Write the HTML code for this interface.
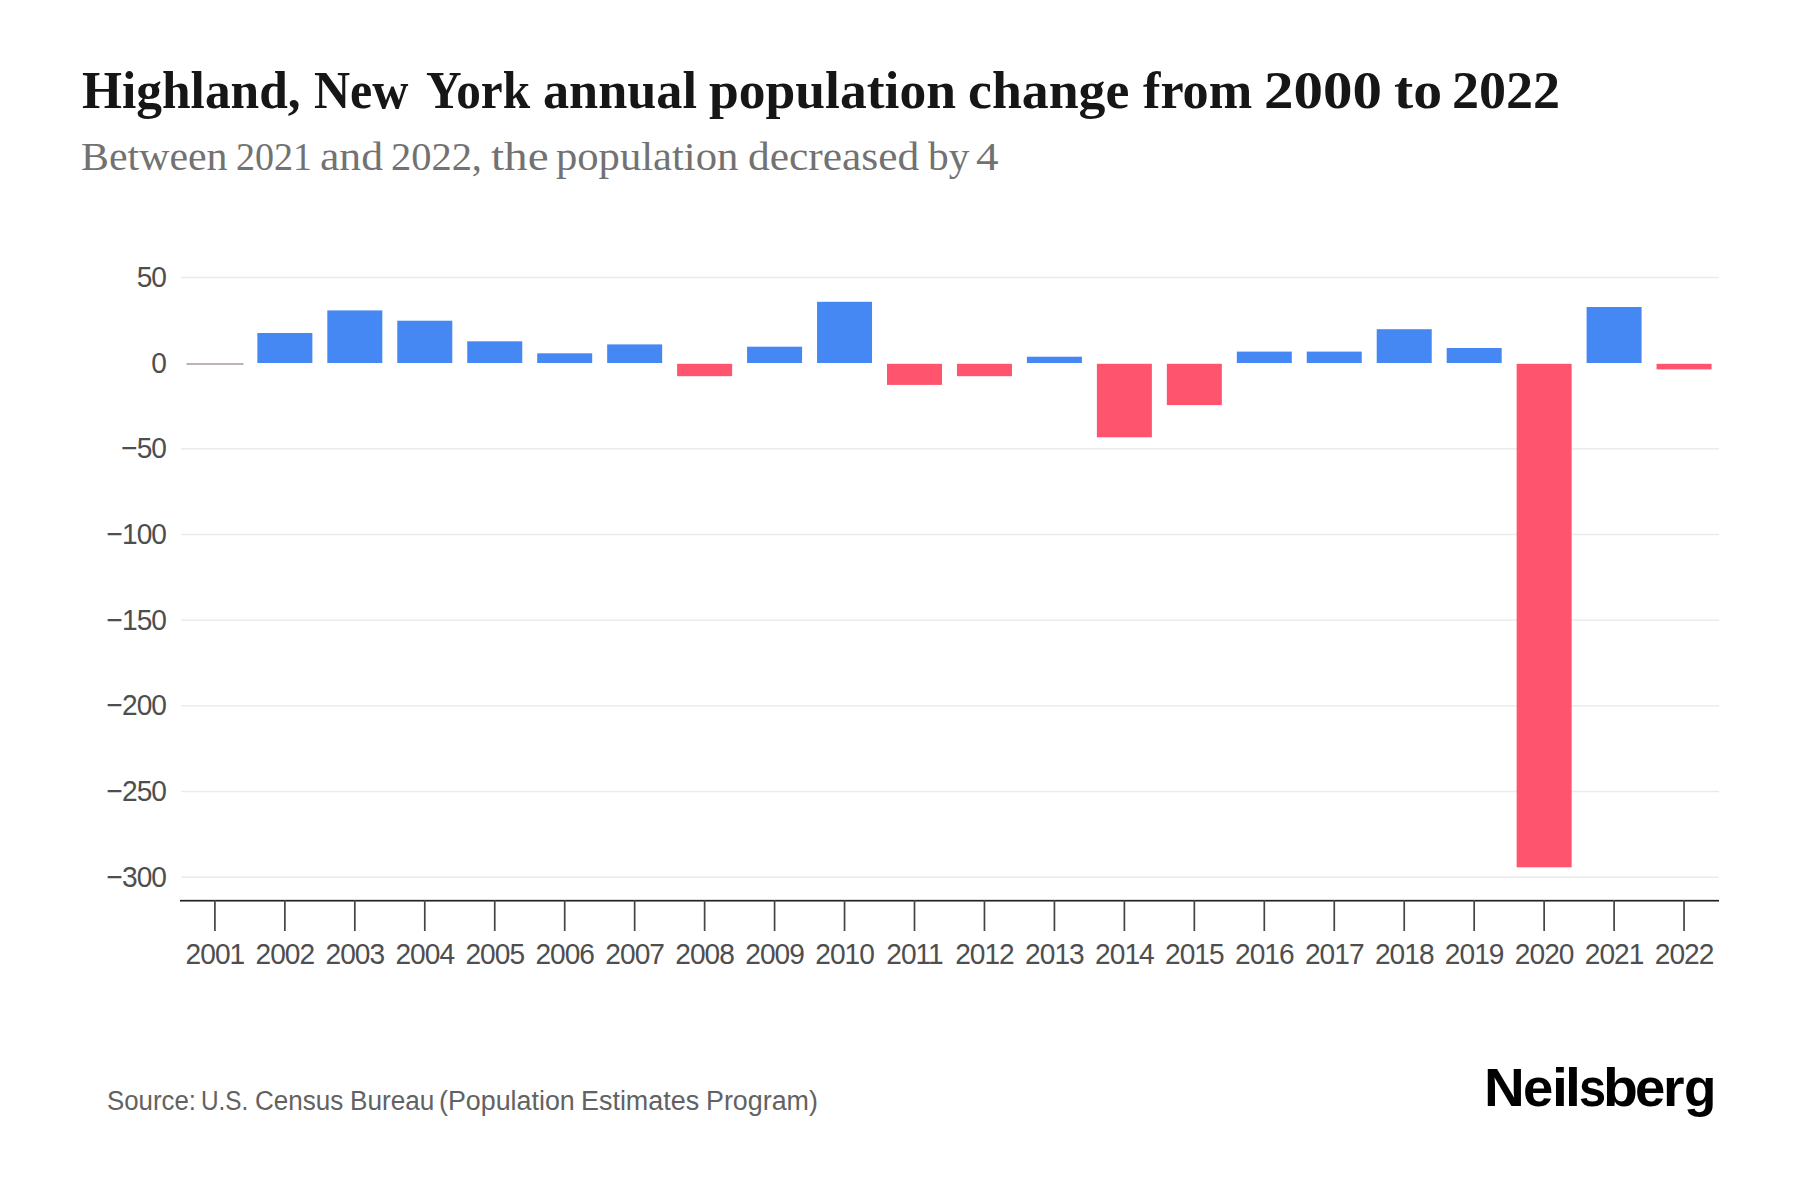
<!DOCTYPE html>
<html><head><meta charset="utf-8">
<style>
html,body{margin:0;padding:0;background:#fff;}
body{width:1800px;height:1200px;position:relative;overflow:hidden;}
.title{position:absolute;transform-origin:0 0;top:60.6px;font-family:"Liberation Serif",serif;font-weight:bold;font-size:52px;color:#161616;white-space:nowrap;line-height:60px;}
.sub{position:absolute;transform-origin:0 0;top:131.7px;font-family:"Liberation Serif",serif;font-size:40px;color:#727272;white-space:nowrap;line-height:50px;}
.src{position:absolute;transform-origin:0 0;top:1081px;font-family:"Liberation Sans",sans-serif;font-size:27px;color:#626262;white-space:nowrap;line-height:40px;}
.logo{position:absolute;transform-origin:0 0;top:1057.5px;font-family:"Liberation Sans",sans-serif;font-weight:bold;font-size:53px;color:#000;white-space:nowrap;line-height:60px;}
svg{position:absolute;left:0;top:0;}
svg text{font-family:"Liberation Sans",sans-serif;font-size:29px;letter-spacing:-1.0px;fill:#4e4e4e;}
</style></head><body>
<span class="title" style="left:81.71px;transform:scaleX(0.989)">Highland,</span><span class="title" style="left:314.04px;transform:scaleX(0.9619)">New</span><span class="title" style="left:425.75px;transform:scaleX(0.9477)">York</span><span class="title" style="left:542.99px;transform:scaleX(1.0047)">annual</span><span class="title" style="left:708.97px;transform:scaleX(1.0294)">population</span><span class="title" style="left:967.93px;transform:scaleX(1.0346)">change</span><span class="title" style="left:1143.0px;transform:scaleX(1.0037)">from</span><span class="title" style="left:1263.53px;transform:scaleX(1.134)">2000</span><span class="title" style="left:1393.89px;transform:scaleX(1.11)">to</span><span class="title" style="left:1452.12px;transform:scaleX(1.04)">2022</span>
<span class="sub" style="left:81.45px;transform:scaleX(1.0471)">Between</span><span class="sub" style="left:236.1px;transform:scaleX(0.9513)">2021</span><span class="sub" style="left:320.31px;transform:scaleX(1.0911)">and</span><span class="sub" style="left:390.78px;transform:scaleX(1.0105)">2022,</span><span class="sub" style="left:491.02px;transform:scaleX(1.1783)">the</span><span class="sub" style="left:556.13px;transform:scaleX(1.0651)">population</span><span class="sub" style="left:747.81px;transform:scaleX(1.0859)">decreased</span><span class="sub" style="left:927.87px;transform:scaleX(1.0333)">by</span><span class="sub" style="left:975.57px;transform:scaleX(1.1278)">4</span>
<svg width="1800" height="1200" viewBox="0 0 1800 1200">
<rect x="181" y="276.75" width="1538" height="1.5" fill="#ebebeb"/><rect x="181" y="448.09" width="1538" height="1.5" fill="#ebebeb"/><rect x="181" y="533.76" width="1538" height="1.5" fill="#ebebeb"/><rect x="181" y="619.43" width="1538" height="1.5" fill="#ebebeb"/><rect x="181" y="705.10" width="1538" height="1.5" fill="#ebebeb"/><rect x="181" y="790.77" width="1538" height="1.5" fill="#ebebeb"/><rect x="181" y="876.44" width="1538" height="1.5" fill="#ebebeb"/>
<rect x="186.5" y="363.0" width="57" height="2.0" fill="#c4b0b4"/><rect x="257.36" y="333.0" width="55" height="30.00" fill="#4688f3"/><rect x="327.32" y="310.4" width="55" height="52.60" fill="#4688f3"/><rect x="397.28" y="320.7" width="55" height="42.30" fill="#4688f3"/><rect x="467.24" y="341.3" width="55" height="21.70" fill="#4688f3"/><rect x="537.20" y="353.3" width="55" height="9.70" fill="#4688f3"/><rect x="607.16" y="344.4" width="55" height="18.60" fill="#4688f3"/><rect x="677.12" y="363.8" width="55" height="12.40" fill="#ff546e"/><rect x="747.08" y="346.7" width="55" height="16.30" fill="#4688f3"/><rect x="817.04" y="301.8" width="55" height="61.20" fill="#4688f3"/><rect x="887.00" y="363.8" width="55" height="21.10" fill="#ff546e"/><rect x="956.96" y="363.8" width="55" height="12.40" fill="#ff546e"/><rect x="1026.92" y="356.7" width="55" height="6.30" fill="#4688f3"/><rect x="1096.88" y="363.8" width="55" height="73.50" fill="#ff546e"/><rect x="1166.84" y="363.8" width="55" height="41.30" fill="#ff546e"/><rect x="1236.80" y="351.6" width="55" height="11.40" fill="#4688f3"/><rect x="1306.76" y="351.6" width="55" height="11.40" fill="#4688f3"/><rect x="1376.72" y="329.2" width="55" height="33.80" fill="#4688f3"/><rect x="1446.68" y="348.0" width="55" height="15.00" fill="#4688f3"/><rect x="1516.64" y="363.8" width="55" height="503.50" fill="#ff546e"/><rect x="1586.60" y="307.0" width="55" height="56.00" fill="#4688f3"/><rect x="1656.56" y="363.8" width="55" height="5.60" fill="#ff546e"/>
<rect x="180" y="899.85" width="1539" height="1.7" fill="#222"/>
<rect x="214.05" y="900" width="1.7" height="31" fill="#444"/><rect x="284.01" y="900" width="1.7" height="31" fill="#444"/><rect x="353.97" y="900" width="1.7" height="31" fill="#444"/><rect x="423.93" y="900" width="1.7" height="31" fill="#444"/><rect x="493.89" y="900" width="1.7" height="31" fill="#444"/><rect x="563.85" y="900" width="1.7" height="31" fill="#444"/><rect x="633.81" y="900" width="1.7" height="31" fill="#444"/><rect x="703.77" y="900" width="1.7" height="31" fill="#444"/><rect x="773.73" y="900" width="1.7" height="31" fill="#444"/><rect x="843.69" y="900" width="1.7" height="31" fill="#444"/><rect x="913.65" y="900" width="1.7" height="31" fill="#444"/><rect x="983.61" y="900" width="1.7" height="31" fill="#444"/><rect x="1053.57" y="900" width="1.7" height="31" fill="#444"/><rect x="1123.53" y="900" width="1.7" height="31" fill="#444"/><rect x="1193.49" y="900" width="1.7" height="31" fill="#444"/><rect x="1263.45" y="900" width="1.7" height="31" fill="#444"/><rect x="1333.41" y="900" width="1.7" height="31" fill="#444"/><rect x="1403.37" y="900" width="1.7" height="31" fill="#444"/><rect x="1473.33" y="900" width="1.7" height="31" fill="#444"/><rect x="1543.29" y="900" width="1.7" height="31" fill="#444"/><rect x="1613.25" y="900" width="1.7" height="31" fill="#444"/><rect x="1683.21" y="900" width="1.7" height="31" fill="#444"/>
<text transform="translate(166,286.90) scale(0.97,1)" text-anchor="end">50</text><text transform="translate(166,372.57) scale(0.97,1)" text-anchor="end">0</text><text transform="translate(166,458.24) scale(0.97,1)" text-anchor="end">−50</text><text transform="translate(166,543.91) scale(0.97,1)" text-anchor="end">−100</text><text transform="translate(166,629.58) scale(0.97,1)" text-anchor="end">−150</text><text transform="translate(166,715.25) scale(0.97,1)" text-anchor="end">−200</text><text transform="translate(166,800.92) scale(0.97,1)" text-anchor="end">−250</text><text transform="translate(166,886.59) scale(0.97,1)" text-anchor="end">−300</text>
<text transform="translate(214.90,964.2) scale(0.97,1)" text-anchor="middle">2001</text><text transform="translate(284.86,964.2) scale(0.97,1)" text-anchor="middle">2002</text><text transform="translate(354.82,964.2) scale(0.97,1)" text-anchor="middle">2003</text><text transform="translate(424.78,964.2) scale(0.97,1)" text-anchor="middle">2004</text><text transform="translate(494.74,964.2) scale(0.97,1)" text-anchor="middle">2005</text><text transform="translate(564.70,964.2) scale(0.97,1)" text-anchor="middle">2006</text><text transform="translate(634.66,964.2) scale(0.97,1)" text-anchor="middle">2007</text><text transform="translate(704.62,964.2) scale(0.97,1)" text-anchor="middle">2008</text><text transform="translate(774.58,964.2) scale(0.97,1)" text-anchor="middle">2009</text><text transform="translate(844.54,964.2) scale(0.97,1)" text-anchor="middle">2010</text><text transform="translate(914.50,964.2) scale(0.97,1)" text-anchor="middle">2011</text><text transform="translate(984.46,964.2) scale(0.97,1)" text-anchor="middle">2012</text><text transform="translate(1054.42,964.2) scale(0.97,1)" text-anchor="middle">2013</text><text transform="translate(1124.38,964.2) scale(0.97,1)" text-anchor="middle">2014</text><text transform="translate(1194.34,964.2) scale(0.97,1)" text-anchor="middle">2015</text><text transform="translate(1264.30,964.2) scale(0.97,1)" text-anchor="middle">2016</text><text transform="translate(1334.26,964.2) scale(0.97,1)" text-anchor="middle">2017</text><text transform="translate(1404.22,964.2) scale(0.97,1)" text-anchor="middle">2018</text><text transform="translate(1474.18,964.2) scale(0.97,1)" text-anchor="middle">2019</text><text transform="translate(1544.14,964.2) scale(0.97,1)" text-anchor="middle">2020</text><text transform="translate(1614.10,964.2) scale(0.97,1)" text-anchor="middle">2021</text><text transform="translate(1684.06,964.2) scale(0.97,1)" text-anchor="middle">2022</text>
</svg>
<span class="src" style="left:106.64px;transform:scaleX(0.9556)">Source:</span><span class="src" style="left:200.6px;transform:scaleX(0.9)">U.S.</span><span class="src" style="left:254.64px;transform:scaleX(0.9644)">Census</span><span class="src" style="left:349.66px;transform:scaleX(0.9687)">Bureau</span><span class="src" style="left:439.11px;transform:scaleX(0.994)">(Population</span><span class="src" style="left:581.31px;transform:scaleX(0.9966)">Estimates</span><span class="src" style="left:705.81px;transform:scaleX(0.9945)">Program)</span>
<span class="logo" style="left:1483.74px;transform:scaleX(1.0645)">N</span><span class="logo" style="left:1523.15px;transform:scaleX(1.0269)">e</span><span class="logo" style="left:1551.55px;transform:scaleX(1.08)">i</span><span class="logo" style="left:1565.15px;transform:scaleX(1.08)">l</span><span class="logo" style="left:1578.66px;transform:scaleX(0.92)">s</span><span class="logo" style="left:1602.69px;transform:scaleX(1.0769)">b</span><span class="logo" style="left:1634.95px;transform:scaleX(1.0269)">e</span><span class="logo" style="left:1663.12px;transform:scaleX(1.0438)">r</span><span class="logo" style="left:1684.0px;transform:scaleX(1.0)">g</span>
</body></html>
